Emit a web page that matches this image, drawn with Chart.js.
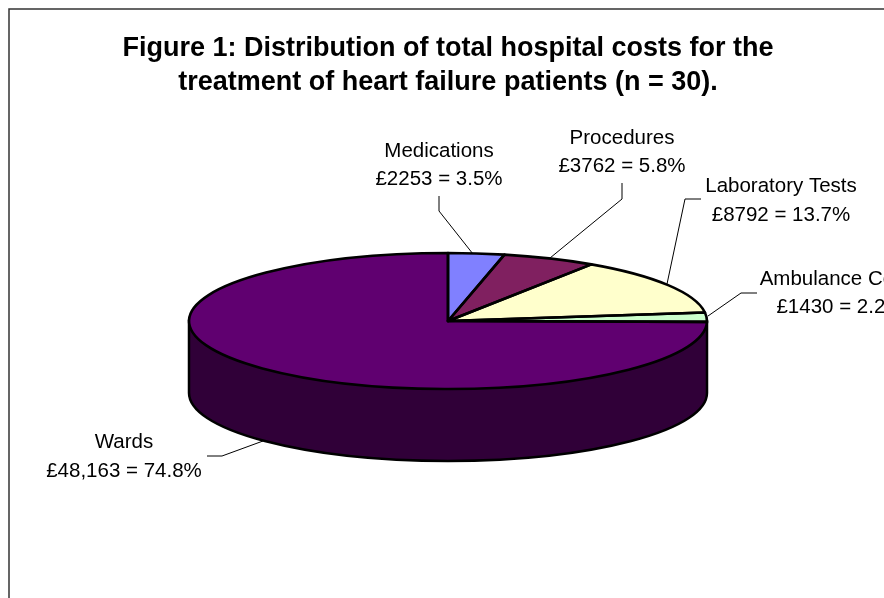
<!DOCTYPE html>
<html>
<head>
<meta charset="utf-8">
<title>Figure 1</title>
<script src="https://cdn.jsdelivr.net/npm/chart.js@4"></script>
<style>
html, body { margin: 0; padding: 0; background: #fff; overflow: hidden; }
canvas { display: block; }
</style>
</head>
<body>
<canvas id="cost-pie" width="884" height="598"></canvas>
<script>
const categories = ['Medications', 'Procedures', 'Laboratory Tests', 'Ambulance Costs', 'Wards'];
const costs = [2253, 3762, 8792, 1430, 48163];
const costTexts = ['£2253', '£3762', '£8792', '£1430', '£48,163'];
const percents = ['3.5%', '5.8%', '13.7%', '2.2%', '74.8%'];
const sliceColors = ['#8080ff', '#802060', '#ffffcc', '#ccffcc', '#600070'];
const titleLines = ['Figure 1: Distribution of total hospital costs for the', 'treatment of heart failure patients (n = 30).'];

// where the flattened pie sits on the page
const cx = 448, cy = 321, rx = 259, ry = 68, depth = 72;
const sideColor = '#300038';
const font = '20.5px "Liberation Sans", Arial, sans-serif';

// label centre x, the two text lines y, then the leader line points
const callouts = [
    { x: 439, y: [151, 179], line: [[439, 196], [439, 211], [473, 254]] },
    { x: 622, y: [138, 166], line: [[622, 183], [622, 199], [550, 258]] },
    { x: 781, y: [186, 215], line: [[701, 199], [685, 199], [667, 284]] },
    { x: 840, y: [279, 307], line: [[757, 293], [741, 293], [708, 316]] },
    { x: 124, y: [442, 471], line: [[207, 456], [222, 456], [263, 441]] }
];

const flatPie = {
    id: 'flatPie',
    beforeDraw(chart) {
        const ctx = chart.ctx;
        ctx.save();
        ctx.strokeStyle = '#333';
        ctx.lineWidth = 1.5;
        ctx.beginPath();
        ctx.moveTo(9, 598);
        ctx.lineTo(9, 9);
        ctx.lineTo(884, 9);
        ctx.stroke();
        ctx.restore();
    },
    beforeDatasetsDraw(chart) {
        const ctx = chart.ctx;
        const arc = chart.getDatasetMeta(0).data[0];

        // side wall of the pie
        ctx.save();
        ctx.beginPath();
        ctx.moveTo(cx - rx, cy);
        ctx.lineTo(cx - rx, cy + depth);
        ctx.ellipse(cx, cy + depth, rx, ry, 0, Math.PI, 0, true);
        ctx.lineTo(cx + rx, cy);
        ctx.closePath();
        ctx.fillStyle = sideColor;
        ctx.fill();
        ctx.strokeStyle = '#000';
        ctx.lineWidth = 2.5;
        ctx.stroke();
        ctx.restore();

        // squash the round pie the library draws
        ctx.save();
        ctx.translate(cx, cy);
        ctx.scale(rx / arc.outerRadius, ry / arc.outerRadius);
        ctx.translate(-arc.x, -arc.y);
    },
    afterDatasetsDraw(chart) {
        const ctx = chart.ctx;
        ctx.restore();

        // slice outlines, done here so the line width is not squashed too
        ctx.save();
        ctx.strokeStyle = '#000';
        ctx.lineWidth = 2.6;
        ctx.lineJoin = 'round';
        chart.getDatasetMeta(0).data.forEach(function(arc) {
            ctx.beginPath();
            ctx.moveTo(cx, cy);
            ctx.ellipse(cx, cy, rx, ry, 0, arc.startAngle, arc.endAngle);
            ctx.closePath();
            ctx.stroke();
        });

        // callouts
        ctx.lineWidth = 1;
        ctx.strokeStyle = '#000';
        ctx.fillStyle = '#000';
        ctx.font = font;
        ctx.textAlign = 'center';
        ctx.textBaseline = 'middle';
        callouts.forEach(function(c, i) {
            ctx.beginPath();
            c.line.forEach(function(p, j) {
                if (j === 0) ctx.moveTo(p[0], p[1]);
                else ctx.lineTo(p[0], p[1]);
            });
            ctx.stroke();
            ctx.fillText(categories[i], c.x, c.y[0]);
            ctx.fillText(costTexts[i] + ' = ' + percents[i], c.x, c.y[1]);
        });
        ctx.restore();
    }
};

const ctx_pie = document.getElementById('cost-pie').getContext('2d');
const costChart = new Chart(ctx_pie, {
    type: 'pie',
    plugins: [flatPie],
    data: {
        labels: categories,
        datasets: [{
            data: costs,
            backgroundColor: sliceColors,
            borderWidth: 0,
            clip: false
        }]
    },
    options: {
        responsive: false,
        animation: false,
        layout: { padding: { left: 12, top: 0 } },
        plugins: {
            legend: { display: false },
            tooltip: { enabled: false },
            title: {
                display: true,
                text: titleLines,
                color: '#000',
                font: { family: '"Liberation Sans", Arial, sans-serif', size: 27, weight: 'bold', lineHeight: 1.26 },
                padding: { top: 32, bottom: 10 }
            }
        }
    }
});
</script>
</body>
</html>
